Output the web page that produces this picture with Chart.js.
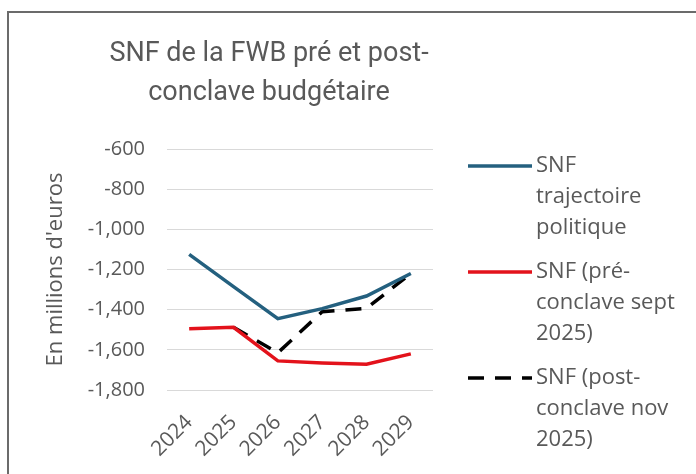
<!DOCTYPE html>
<html>
<head>
<meta charset="utf-8">
<script src="https://cdn.jsdelivr.net/npm/chart.js@4/dist/chart.umd.min.js"></script>
<style>
  body { margin: 0; background: #fff; }
  #wrap { position: relative; width: 696px; height: 474px; overflow: hidden; }
  #frame { position: absolute; left: 7px; top: 11px; width: 800px; height: 600px; border: 2px solid #6b6b6b; }
  #chart { position: absolute; left: 0; top: 0; }
</style>
</head>
<body>
<div id="wrap">
  <div id="frame"></div>
  <canvas id="chart" width="696" height="474"></canvas>
</div>
<script>
// donnees
const years = ['2024', '2025', '2026', '2027', '2028', '2029'];
const trajectoire = [-1125, -1285, -1445, -1395, -1332, -1220];
const preConclave = [-1495, -1488, -1655, -1665, -1672, -1620];
const postConclave = [null, -1488, -1615, -1410, -1393, -1220];

const titleLines = ['SNF de la FWB pré et post-', 'conclave budgétaire'];
const legendLines = [
  ['SNF', 'trajectoire', 'politique'],
  ['SNF (pré-', 'conclave sept', '2025)'],
  ['SNF (post-', 'conclave nov', '2025)']
];
const yTitle = "En millions d'euros";

const fontFam = "'Open Sans', 'Noto Sans', sans-serif";
const grey = '#595959';

// titre + legende dessines a la main
const textPlugin = {
  id: 'textPlugin',
  afterDraw(chart) {
    const ctx = chart.ctx;
    ctx.save();
    ctx.fillStyle = grey;
    ctx.textAlign = 'center';
    ctx.textBaseline = 'middle';
    ctx.font = '27px Roboto, ' + fontFam;
    titleLines.forEach((t, i) => ctx.fillText(t, 269, 54 + i * 39));

    ctx.font = '22px ' + fontFam;
    ctx.textAlign = 'left';
    let y = 166;
    chart.data.datasets.forEach((ds, i) => {
      ctx.strokeStyle = ds.borderColor;
      ctx.lineWidth = ds.borderWidth;
      ctx.setLineDash(ds.borderDash || []);
      ctx.beginPath();
      ctx.moveTo(468, y);
      ctx.lineTo(532, y);
      ctx.stroke();
      legendLines[i].forEach((l, j) => ctx.fillText(l, 536, y + j * 31));
      y += legendLines[i].length * 31 + 13;
    });
    ctx.restore();
  }
};

const ctx = document.getElementById('chart').getContext('2d');
const myChart = new Chart(ctx, {
  type: 'line',
  data: {
    labels: years,
    datasets: [{
      label: 'SNF trajectoire politique',
      data: trajectoire,
      borderColor: '#24607f',
      borderWidth: 3.5
    }, {
      label: 'SNF (pré-conclave sept 2025)',
      data: preConclave,
      borderColor: '#e3121b',
      borderWidth: 3.5
    }, {
      label: 'SNF (post-conclave nov 2025)',
      data: postConclave,
      borderColor: '#000000',
      borderWidth: 3.5,
      borderDash: [16, 11]
    }]
  },
  options: {
    responsive: false,
    animation: false,
    elements: { point: { radius: 0 }, line: { tension: 0 } },
    layout: { padding: { top: 149, right: 263, bottom: 0, left: 33 } },
    plugins: { legend: { display: false }, title: { display: false }, tooltip: { enabled: false } },
    scales: {
      x: {
        offset: true,
        grid: { display: false },
        border: { display: false },
        ticks: {
          color: grey,
          font: { size: 21, family: fontFam },
          minRotation: 45,
          maxRotation: 45,
          padding: 12
        },
        afterFit(scale) { scale.height = 84; }
      },
      y: {
        min: -1800,
        max: -600,
        border: { display: false },
        grid: { color: '#d9d9d9', lineWidth: 1, drawTicks: false },
        ticks: {
          stepSize: 200,
          color: grey,
          padding: 22,
          font: { size: 20, family: fontFam }
        },
        title: {
          display: true,
          text: yTitle,
          color: grey,
          padding: { top: 10, bottom: 0 },
          font: { size: 22, family: fontFam }
        },
        afterFit(scale) { scale.width = 167 - 33; }
      }
    }
  },
  plugins: [textPlugin]
});
</script>
</body>
</html>
